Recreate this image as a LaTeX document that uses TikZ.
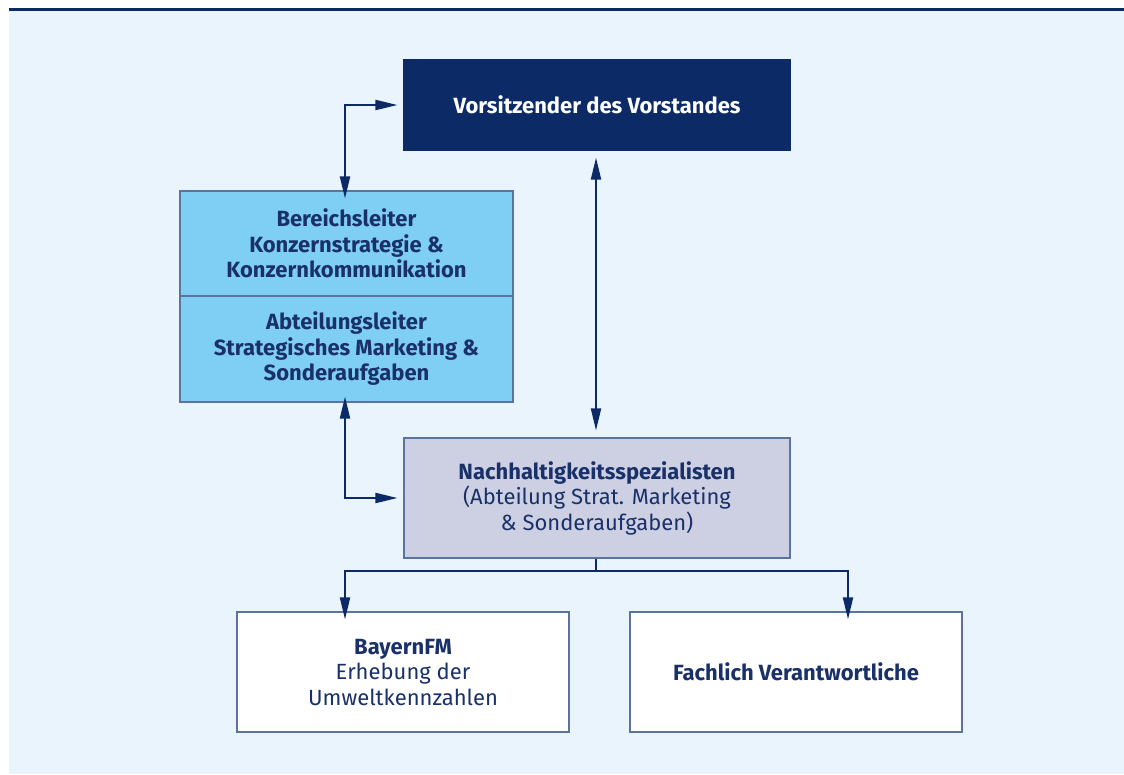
\documentclass[tikz,border=0pt]{standalone}
\usepackage{fontspec}
\setmainfont{Fira Sans}
\usetikzlibrary{arrows.meta}
\definecolor{navy}{HTML}{0B2A66}
\definecolor{bgblue}{HTML}{EAF4FD}
\definecolor{skyfill}{HTML}{7FCEF4}
\definecolor{greyfill}{HTML}{CDD0E2}
\definecolor{boxline}{HTML}{5A73A0}
\definecolor{txt}{HTML}{1A3068}
\tikzset{
  box/.style={draw=boxline, line width=1.2pt, inner sep=0pt, align=center,
    font=\fontsize{22}{25.5}\selectfont, text=txt},
  conn/.style={draw=navy, line width=2pt},
  tip/.style={-{Triangle[length=22pt,width=10pt]}},
  tips/.style={{Triangle[length=22pt,width=10pt]}-{Triangle[length=22pt,width=10pt]}},
}
\begin{document}
\begin{tikzpicture}[x=1pt,y=-1pt]
\useasboundingbox (0,0) rectangle (1124,774);
\fill[white] (0,0) rectangle (1124,774);
\fill[bgblue] (9,10) rectangle (1124,774);
\draw[navy, line width=2.5pt] (9,9.5) -- (1124,9.5);

\node[box, fill=navy, draw=navy, text=white, minimum width=386pt, minimum height=90pt]
  (vor) at (597,105) {\textbf{Vorsitzender des Vorstandes}};

\node[box, fill=skyfill, minimum width=333pt, minimum height=105pt]
  (bl) at (346.5,243.5) {\textbf{Bereichsleiter}\\\textbf{Konzernstrategie \&}\\\textbf{Konzernkommunikation}};
\node[box, fill=skyfill, minimum width=333pt, minimum height=106pt]
  (al) at (346.5,349) {\textbf{Abteilungsleiter}\\\textbf{Strategisches Marketing \&}\\\textbf{Sonderaufgaben}};

\node[box, fill=greyfill, minimum width=386pt, minimum height=120pt]
  (nh) at (597,498) {\textbf{Nachhaltigkeitsspezialisten}\\(Abteilung Strat. Marketing\\\& Sonderaufgaben)};

\node[box, fill=white, minimum width=332pt, minimum height=120pt]
  (bfm) at (403,672) {\textbf{BayernFM}\\Erhebung der\\Umweltkennzahlen};
\node[box, fill=white, minimum width=332pt, minimum height=120pt]
  (fv) at (796,672) {\textbf{Fachlich Verantwortliche}};

% connectors
\coordinate (c1) at (345,105);
\coordinate (c2) at (345,498);
\coordinate (c3) at (596,571);
\draw[conn, tips] ([xshift=-1.5pt,yshift=-8pt]bl.north) -- (c1) -- ([xshift=-6pt]vor.west);
\draw[conn, tips] ([xshift=-1pt,yshift=-7pt]vor.south) -- ([xshift=-1pt,yshift=7pt]nh.north);
\draw[conn, tips] ([xshift=-1.5pt,yshift=6pt]al.south) -- (c2) -- ([xshift=-6pt]nh.west);
\draw[conn] ([xshift=-1pt]nh.south) -- (c3);
\draw[conn, tip] (c3) -| ([xshift=-58pt,yshift=-8pt]bfm.north);
\draw[conn, tip] (c3) -| ([xshift=52pt,yshift=-8pt]fv.north);
\end{tikzpicture}
\end{document}
